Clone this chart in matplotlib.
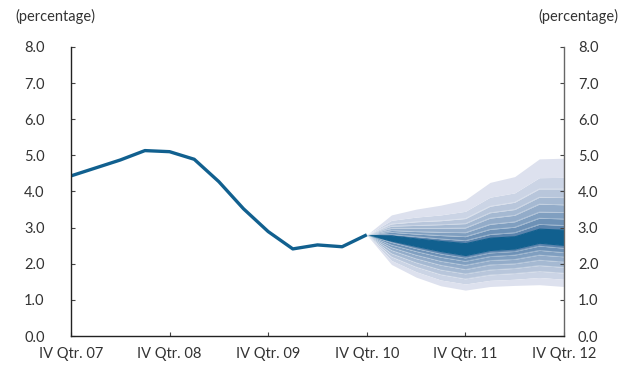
import numpy as np
import matplotlib
matplotlib.use('Agg')
import matplotlib.pyplot as plt
import matplotlib.transforms as mtransforms
from matplotlib.colors import LinearSegmentedColormap

# history, quarters IV Qtr. 07 (0) .. IV Qtr. 10 (12)
hist_q = list(range(0, 13))
hist = [4.43, 4.65, 4.87, 5.13, 5.10, 4.89, 4.27, 3.52, 2.89, 2.41, 2.52, 2.47, 2.80]

# forecast fan, quarters 12 .. 20
fan_q = list(range(12, 21))
dark_top = [2.80, 2.78, 2.70, 2.63, 2.57, 2.72, 2.76, 2.97, 2.94]
dark_bot = [2.80, 2.64, 2.49, 2.35, 2.24, 2.38, 2.42, 2.58, 2.52]
upper = [
    [2.80, 2.81, 2.75, 2.69, 2.64, 2.81, 2.86, 3.09, 3.06],
    [2.80, 2.87, 2.82, 2.78, 2.75, 2.95, 3.01, 3.26, 3.24],
    [2.80, 2.92, 2.89, 2.87, 2.86, 3.09, 3.16, 3.43, 3.42],
    [2.80, 2.98, 2.98, 2.98, 2.99, 3.26, 3.34, 3.65, 3.63],
    [2.80, 3.04, 3.06, 3.08, 3.11, 3.41, 3.50, 3.84, 3.83],
    [2.80, 3.10, 3.16, 3.19, 3.25, 3.59, 3.70, 4.07, 4.07],
    [2.80, 3.20, 3.29, 3.35, 3.45, 3.84, 3.96, 4.38, 4.39],
    [2.80, 3.35, 3.51, 3.62, 3.77, 4.25, 4.41, 4.90, 4.92],
]
lower = [
    [2.80, 2.59, 2.42, 2.27, 2.16, 2.30, 2.34, 2.49, 2.43],
    [2.80, 2.52, 2.34, 2.18, 2.07, 2.20, 2.24, 2.37, 2.31],
    [2.80, 2.45, 2.24, 2.07, 1.96, 2.09, 2.12, 2.24, 2.19],
    [2.80, 2.37, 2.14, 1.96, 1.84, 1.97, 2.00, 2.10, 2.05],
    [2.80, 2.28, 2.03, 1.83, 1.72, 1.83, 1.87, 1.95, 1.90],
    [2.80, 2.19, 1.91, 1.70, 1.58, 1.69, 1.73, 1.79, 1.74],
    [2.80, 2.09, 1.78, 1.55, 1.44, 1.54, 1.57, 1.62, 1.57],
    [2.80, 1.98, 1.63, 1.39, 1.27, 1.37, 1.40, 1.42, 1.37],
]

xtick_pos = [0, 4, 8, 12, 16, 20]
xtick_lab = ['IV Qtr. 07', 'IV Qtr. 08', 'IV Qtr. 09', 'IV Qtr. 10', 'IV Qtr. 11', 'IV Qtr. 12']
yticks = [0, 1, 2, 3, 4, 5, 6, 7, 8]

plt.rcParams['font.family'] = ['Lato', 'DejaVu Sans']
txt_col = '#333333'
main_col = '#11608f'

fig = plt.figure(figsize=(6.28, 3.69), dpi=100)
ax = fig.add_axes([0.113, 0.0894, 0.785, 0.7836])

# fan bands, dark inner to light outer
cmap = LinearSegmentedColormap.from_list('fan', ['#5b84ad', '#dde1ee'])
n = len(upper)
inner_u = dark_top
inner_l = dark_bot
for i in range(n):
    c = cmap(i / (n - 1))
    ax.fill_between(fan_q, inner_u, upper[i], color=c, lw=0)
    ax.fill_between(fan_q, lower[i], inner_l, color=c, lw=0)
    inner_u = upper[i]
    inner_l = lower[i]
for i in range(n - 2):
    ax.plot(fan_q, upper[i], color='white', lw=0.5, alpha=0.35)
    ax.plot(fan_q, lower[i], color='white', lw=0.5, alpha=0.35)
ax.fill_between(fan_q, dark_bot, dark_top, color=main_col, lw=0.8, edgecolor=main_col)

ax.plot(hist_q, hist, color=main_col, lw=2.4, solid_joinstyle='round', solid_capstyle='butt')

ax.set_xlim(0, 20)
ax.set_ylim(0, 8)
ax.set_xticks(xtick_pos)
ax.set_xticklabels(xtick_lab)
ax.set_yticks(yticks)
ax.set_yticklabels([f'{v:.1f}' for v in yticks])

ax.spines['top'].set_visible(False)
for s in ['left', 'bottom']:
    ax.spines[s].set_color('#222222')
    ax.spines[s].set_linewidth(1.0)
ax.spines['right'].set_color('#666666')
ax.spines['right'].set_linewidth(1.0)

ax.tick_params(axis='y', direction='in', length=3, width=0.8, colors='#444444',
               labelcolor=txt_col, labelsize=10.5, left=True, right=True,
               labelleft=True, labelright=True, pad=19)
ax.tick_params(axis='x', direction='in', length=3, width=0.8, colors='#444444',
               labelcolor=txt_col, labelsize=10.5, pad=8)

# right labels sit closer to the spine than the left ones
offset = mtransforms.ScaledTranslation(-9 / 72, 0, fig.dpi_scale_trans)
for t in ax.yaxis.get_major_ticks():
    t.label2.set_transform(t.label2.get_transform() + offset)

fig.text(0.024, 0.955, '(percentage)', fontsize=10.5, color=txt_col, va='center', ha='left')
fig.text(0.984, 0.955, '(percentage)', fontsize=10.5, color=txt_col, va='center', ha='right')

fig.savefig('out.png', dpi=100)
